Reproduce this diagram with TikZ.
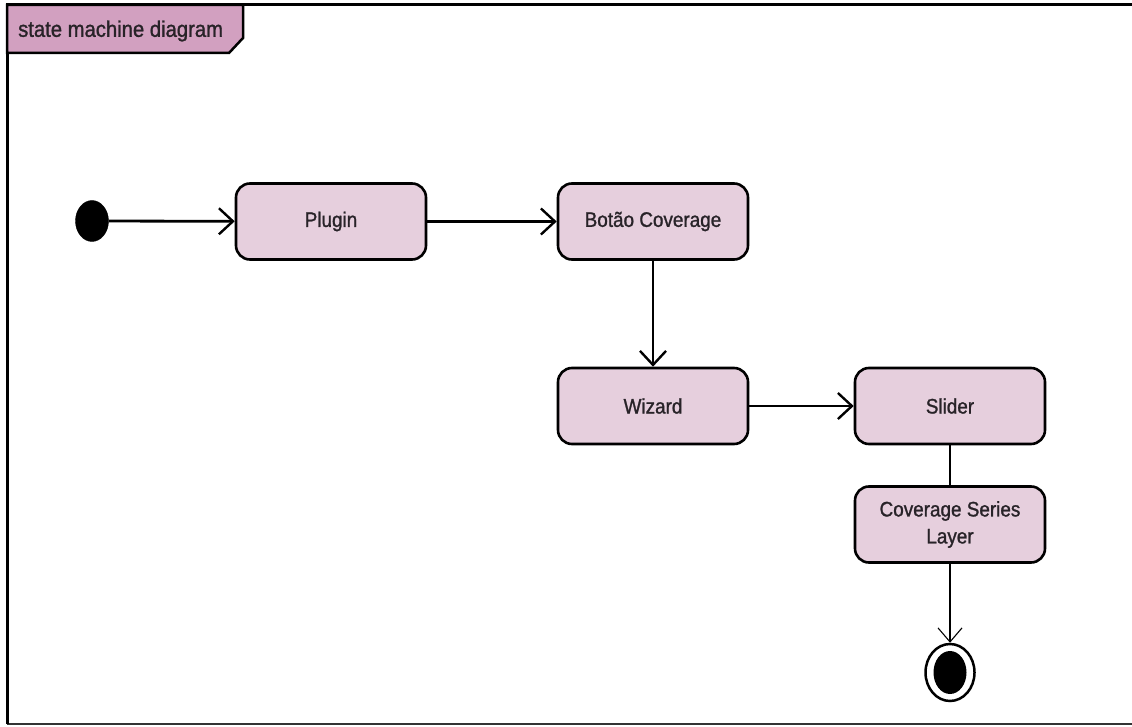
\documentclass[tikz,border=0pt]{standalone}
\usepackage{fontspec}
\setmainfont[FakeStretch=0.9,FakeBold=1.2]{Liberation Sans}
\usetikzlibrary{arrows.meta,shapes.geometric}
\definecolor{boxfill}{RGB}{230,207,221}
\definecolor{tabfill}{RGB}{210,160,192}
\definecolor{txt}{RGB}{40,35,40}
\tikzset{
  state/.style={draw=black, line width=2.6pt, fill=boxfill, rounded corners=14pt,
    minimum width=190pt, minimum height=76pt, align=center, font=\fontsize{21}{27}\selectfont, text=txt},
  trans/.style={line width=2.8pt, -{Straight Barb[length=14pt, width=26pt, line width=2.4pt]}},
  thintrans/.style={line width=1.1pt, -{Straight Barb[length=14pt, width=24pt, line width=1.1pt]}},
  plain/.style={line width=1.1pt}
}
\begin{document}
\begin{tikzpicture}[x=1pt,y=-1pt]
\useasboundingbox (0,0) rectangle (1132,727);
\fill[white] (0,0) rectangle (1132,727);
% frame
\draw[line width=1.5pt, black!80] (7,724) -- (1132,724);
\draw[line width=3pt] (7,724) -- (7,5) -- (1132,5);
% tab
\draw[line width=2.5pt, fill=tabfill] (7,5) -- (243,5) -- (243,38) -- (229,53) -- (7,53) -- cycle;
\node[font=\fontsize{22.5}{26}\selectfont, text=txt, anchor=west, inner sep=0pt] (title) at (18,31) {state machine diagram};
% nodes
\node[draw, fill=black, ellipse, minimum width=33pt, minimum height=41pt, inner sep=0pt] (init) at (92,221) {};
\node[state] (plugin) at (331,221.5) {Plugin};
\node[state] (botao) at (653,221.5) {Botão Coverage};
\node[state] (wizard) at (653,406) {Wizard};
\node[state] (slider) at (950,406) {Slider};
\node[state] (csl) at (950,524.5) {Coverage Series\\Layer};
\node[draw, line width=2.5pt, fill=white, ellipse, minimum width=49pt, minimum height=57pt, inner sep=0pt] (final) at (950,672.5) {};
\node[fill=black, ellipse, minimum width=33pt, minimum height=43pt, inner sep=0pt] (finalin) at (950,672.5) {};
% connectors
\draw[trans] (init) -- (plugin);
\draw[trans] (plugin) -- (botao);
\draw[trans] (botao) -- (wizard);
\draw[trans] (wizard) -- (slider);
\draw[plain] (slider) -- (csl);
\draw[thintrans] (csl) -- (final);
\end{tikzpicture}
\end{document}
